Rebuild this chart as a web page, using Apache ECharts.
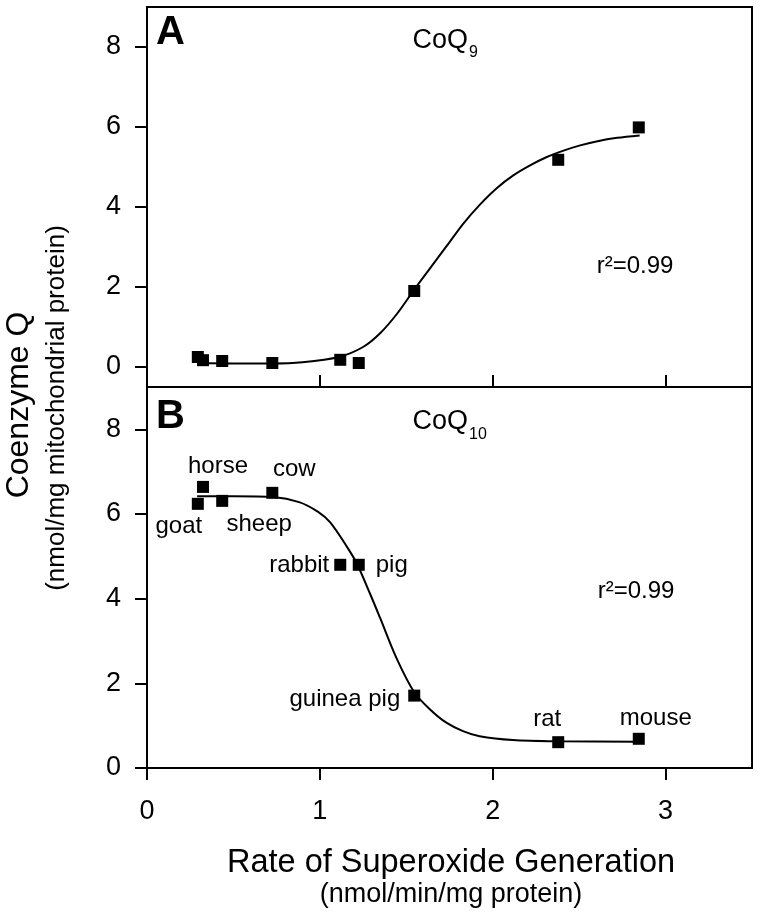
<!DOCTYPE html>
<html>
<head>
<meta charset="utf-8">
<script src="https://cdn.jsdelivr.net/npm/echarts@6/dist/echarts.min.js"></script>
<style>
html,body{margin:0;padding:0;background:#fff;}
#chart{width:762px;height:924px;}
</style>
</head>
<body>
<div id="chart"></div>
<script>
// ---- data ----
const xTicks = [0, 1, 2, 3];
const yTicks = [0, 2, 4, 6, 8];
const animals = ['goat', 'horse', 'sheep', 'cow', 'rabbit', 'pig', 'guinea pig', 'rat', 'mouse'];
const rate = [0.294, 0.324, 0.435, 0.725, 1.118, 1.225, 1.546, 2.379, 2.845];
const coq9 = [0.25, 0.17, 0.15, 0.10, 0.18, 0.10, 1.90, 5.18, 5.99];
const coq10 = [6.24, 6.64, 6.31, 6.50, 4.80, 4.80, 1.71, 0.61, 0.69];
// fitted curves (traced)
const fitAx = [0.29, 0.50, 0.72, 0.90, 1.11, 1.25, 1.35, 1.45, 1.545, 1.636, 1.733, 1.829, 1.926, 2.023, 2.119, 2.216, 2.313, 2.41, 2.506, 2.60, 2.72, 2.85];
const fitAy = [0.10, 0.09, 0.09, 0.12, 0.25, 0.50, 0.85, 1.35, 1.93, 2.46, 3.02, 3.58, 4.06, 4.47, 4.79, 5.04, 5.25, 5.41, 5.54, 5.64, 5.73, 5.79];
const fitBx = [0.29, 0.50, 0.73, 0.88, 0.99, 1.06, 1.156, 1.214, 1.291, 1.348, 1.444, 1.546, 1.636, 1.732, 1.828, 1.924, 2.116, 2.381, 2.844];
const fitBy = [6.42, 6.42, 6.40, 6.28, 6.05, 5.80, 5.23, 4.83, 4.11, 3.55, 2.59, 1.79, 1.39, 1.07, 0.87, 0.75, 0.66, 0.63, 0.62];
const panelA = {letter: 'A', name: 'CoQ', sub: '9', r2: 'r²=0.99'};
const panelB = {letter: 'B', name: 'CoQ', sub: '10', r2: 'r²=0.99'};
const xTitle = 'Rate of Superoxide Generation';
const xSub = '(nmol/min/mg protein)';
const yTitle = 'Coenzyme Q';
const ySub = '(nmol/mg mitochondrial protein)';

// ---- styles ----
const FONT = '"Liberation Sans", Arial, Helvetica, sans-serif';
const labelPos = {
  'goat':       {position: 'bottom', distance: 5, offset: [-19, 0]},
  'horse':      {position: 'top', distance: 3, offset: [15, 0]},
  'sheep':      {position: 'bottom', distance: 5, offset: [37, 0]},
  'cow':        {position: 'top', distance: 5, offset: [22, 0]},
  'rabbit':     {position: 'left', distance: 5, offset: [0, 1]},
  'pig':        {position: 'right', distance: 11, offset: [0, 1]},
  'guinea pig': {position: 'left', distance: 8, offset: [0, 4]},
  'rat':        {position: 'top', distance: 5, offset: [-11, 0]},
  'mouse':      {position: 'top', distance: 2, offset: [17, 0]}
};

const chart = echarts.init(document.getElementById('chart'), null, {renderer: 'canvas'});

function xAxisCfg(gi, showLabels, tickInside) {
  return {
    type: 'value', gridIndex: gi, min: 0, max: 3.5,
    axisLine: {show: true, onZero: false, lineStyle: {color: '#000', width: 2}},
    axisTick: {show: true, inside: tickInside, length: 12, lineStyle: {color: '#000', width: 2}, customValues: xTicks},
    axisLabel: {show: showLabels, customValues: xTicks, margin: 30, color: '#000', fontSize: 27, fontFamily: FONT},
    splitLine: {show: false}
  };
}
function yAxisCfg(gi, min, max) {
  return {
    type: 'value', gridIndex: gi, min: min, max: max,
    axisLine: {show: true, onZero: false, lineStyle: {color: '#000', width: 2}},
    axisTick: {show: true, inside: false, length: 12, lineStyle: {color: '#000', width: 2}, customValues: yTicks},
    axisLabel: {show: true, customValues: yTicks, margin: 26, color: '#000', fontSize: 27, fontFamily: FONT},
    splitLine: {show: false}
  };
}

const ptsA = rate.map((x, i) => [x, coq9[i]]);
const ptsB = rate.map((x, i) => ({
  name: animals[i], value: [x, coq10[i]],
  label: Object.assign({show: true, formatter: animals[i], color: '#000', fontSize: 24, fontFamily: FONT}, labelPos[animals[i]])
}));
const curveA = fitAx.map((x, i) => [x, fitAy[i]]);
const curveB = fitBx.map((x, i) => [x, fitBy[i]]);

function txt(text, x, y, size, opts) {
  return Object.assign({
    type: 'text', x: x, y: y, z: 100,
    style: Object.assign({text: text, fill: '#000', fontSize: size, fontFamily: FONT, textAlign: 'left', textVerticalAlign: 'middle'}, (opts && opts.style) || {})
  }, (opts && opts.el) || {});
}

const lineSeries = (xi, data) => ({
  type: 'line', xAxisIndex: xi, yAxisIndex: xi, data: data, smooth: 0.3,
  showSymbol: false, lineStyle: {color: '#000', width: 2}, z: 2, silent: true
});
const scatterSeries = (xi, data) => ({
  type: 'scatter', xAxisIndex: xi, yAxisIndex: xi, data: data, symbol: 'rect', symbolSize: 12,
  itemStyle: {color: '#000', opacity: 1}, z: 3, silent: true
});

const option = {
  backgroundColor: '#fff',
  animation: false,
  grid: [
    {left: 147, top: 7, width: 605, height: 380, show: true, borderColor: '#000', borderWidth: 2, backgroundColor: 'transparent'},
    {left: 147, top: 387, width: 605, height: 381, show: true, borderColor: '#000', borderWidth: 2, backgroundColor: 'transparent'}
  ],
  xAxis: [xAxisCfg(0, false, true), xAxisCfg(1, true, false)],
  yAxis: [yAxisCfg(0, -0.5, 9), yAxisCfg(1, 0, 9)],
  series: [
    lineSeries(0, curveA), scatterSeries(0, ptsA),
    lineSeries(1, curveB), scatterSeries(1, ptsB)
  ],
  graphic: [
    txt(panelA.letter, 156, 33, 40, {style: {fontWeight: 'bold'}}),
    txt(panelB.letter, 156, 417, 40, {style: {fontWeight: 'bold'}}),
    txt(panelA.name, 468, 41, 27, {style: {textAlign: 'right'}}),
    txt(panelA.sub, 469, 53, 16),
    txt(panelB.name, 468, 422, 27, {style: {textAlign: 'right'}}),
    txt(panelB.sub, 469, 435, 16),
    txt(panelA.r2, 635, 266, 24, {style: {textAlign: 'center'}}),
    txt(panelB.r2, 636, 591, 24, {style: {textAlign: 'center'}}),
    txt(xTitle, 451, 863, 32.5, {style: {textAlign: 'center'}}),
    txt(xSub, 451, 895, 27, {style: {textAlign: 'center'}}),
    txt(yTitle, 19, 405, 32, {style: {textAlign: 'center'}, el: {rotation: Math.PI / 2}}),
    txt(ySub, 57, 408, 26, {style: {textAlign: 'center'}, el: {rotation: Math.PI / 2}})
  ]
};
chart.setOption(option);
</script>
</body>
</html>
